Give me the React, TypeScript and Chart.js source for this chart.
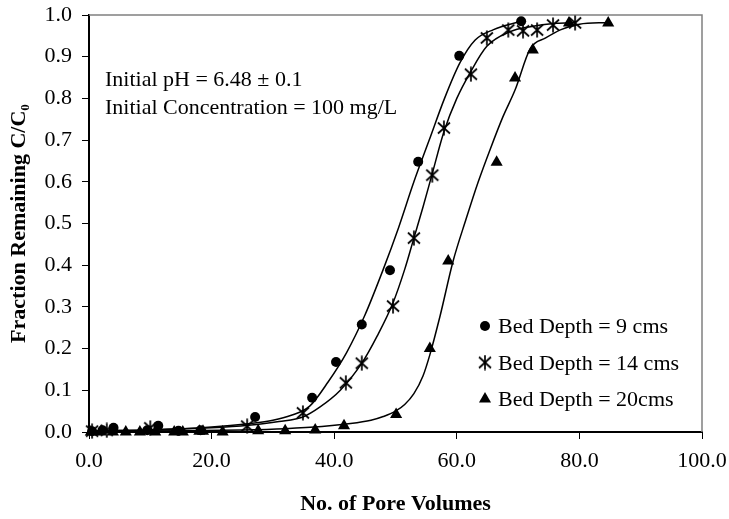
import { useEffect, useRef } from 'react';
import { Chart, registerables } from 'chart.js';

Chart.register(...registerables);

// Measured breakthrough points, bed depth 9 cm
const depth9X = [0.5, 2.2, 4.0, 9.5, 11.3, 14.6, 18.2, 27.1, 36.4, 40.3, 44.5, 49.1, 53.7, 60.4, 70.5];
const depth9Y = [0.002, 0.004, 0.01, 0.004, 0.015, 0.003, 0.004, 0.036, 0.082, 0.168, 0.258, 0.388, 0.648, 0.902, 0.985];

// Measured breakthrough points, bed depth 14 cm
const depth14X = [0.5, 2.9, 10.0, 25.8, 34.9, 41.9, 44.5, 49.6, 53.0, 56.0, 57.9, 62.3, 64.9, 68.4, 70.8, 73.1, 75.7, 79.3];
const depth14Y = [0.002, 0.004, 0.01, 0.014, 0.046, 0.118, 0.165, 0.302, 0.465, 0.616, 0.729, 0.858, 0.945, 0.964, 0.962, 0.964, 0.976, 0.981];

// Measured breakthrough points, bed depth 20 cm
const depth20X = [0.3, 1.9, 3.9, 6.0, 8.3, 10.8, 13.9, 15.3, 18.0, 18.6, 21.8, 27.6, 32.0, 36.9, 41.6, 50.1, 55.6, 58.6, 66.5, 69.5, 72.4, 78.3, 84.7];
const depth20Y = [0, 0, 0, 0, 0, 0, 0, 0, 0.002, 0.002, 0, 0.003, 0.003, 0.005, 0.015, 0.042, 0.2, 0.41, 0.647, 0.849, 0.916, 0.981, 0.981];

// Fitted breakthrough curves
const fit9X = [0, 10, 20, 26, 30, 33, 36, 39, 42, 45, 48, 50.5, 53, 55.5, 58, 60.5, 63, 66, 70.5];
const fit9Y = [0.003, 0.005, 0.012, 0.02, 0.028, 0.04, 0.062, 0.12, 0.19, 0.28, 0.39, 0.49, 0.6, 0.7, 0.8, 0.885, 0.94, 0.965, 0.985];

const fit14X = [0, 10, 20, 26, 31, 34.9, 37.7, 41, 44.5, 47, 49.6, 51.5, 53, 54.5, 56, 57.9, 60, 62.3, 64.9, 68.7, 72, 76.3, 79.3];
const fit14Y = [0.003, 0.005, 0.01, 0.016, 0.025, 0.036, 0.06, 0.1, 0.165, 0.23, 0.31, 0.39, 0.465, 0.54, 0.62, 0.72, 0.8, 0.865, 0.925, 0.96, 0.972, 0.98, 0.982];

const fit20X = [0, 15, 25, 32, 38, 42, 46, 48, 50, 51.5, 53, 54.5, 55.6, 57.3, 59.4, 61.5, 63.5, 65.5, 67.5, 69.5, 72, 74.5, 77, 80, 84.7];
const fit20Y = [0.002, 0.003, 0.005, 0.008, 0.013, 0.019, 0.028, 0.037, 0.05, 0.066, 0.092, 0.135, 0.185, 0.28, 0.41, 0.51, 0.6, 0.68, 0.755, 0.82, 0.92, 0.945, 0.965, 0.978, 0.982];

const seriesLabels = ['Bed Depth = 9 cms', 'Bed Depth = 14 cms', 'Bed Depth = 20cms'];
const noteLines = ['Initial pH = 6.48 \u00b1 0.1', 'Initial Concentration = 100 mg/L'];
const xTitle = 'No. of Pore Volumes';
const yTitle = 'Fraction Remaining C/C\u2080';

const SERIF = '"Liberation Serif", "Times New Roman", serif';

const toPoints = (xs: number[], ys: number[]) => xs.map((x, i) => ({ x, y: ys[i] }));

// Six-armed asterisk marker (X with a vertical bar)
function makeAsterisk(): HTMLCanvasElement {
  const c = document.createElement('canvas');
  c.width = 16;
  c.height = 16;
  const g = c.getContext('2d')!;
  g.strokeStyle = '#000';
  g.lineWidth = 1.7;
  g.beginPath();
  g.moveTo(2, 2.5); g.lineTo(14, 13.5);
  g.moveTo(14, 2.5); g.lineTo(2, 13.5);
  g.moveTo(8, 0.5); g.lineTo(8, 15.5);
  g.stroke();
  return c;
}

function drawMarker(ctx: CanvasRenderingContext2D, style: any, r: number, x: number, y: number) {
  ctx.save();
  ctx.fillStyle = '#000';
  if (style instanceof HTMLCanvasElement) {
    ctx.drawImage(style, x - style.width / 2, y - style.height / 2);
  } else if (style === 'triangle') {
    const h = r * 1.5;
    const w = r * Math.sqrt(3) / 2;
    ctx.beginPath();
    ctx.moveTo(x, y - r);
    ctx.lineTo(x + w, y - r + h);
    ctx.lineTo(x - w, y - r + h);
    ctx.closePath();
    ctx.fill();
  } else {
    ctx.beginPath();
    ctx.arc(x, y, r, 0, Math.PI * 2);
    ctx.fill();
  }
  ctx.restore();
}

// Grey frame on the top and right of the plot area
const framePlugin = {
  id: 'frame',
  beforeDatasetsDraw(chart: any) {
    const { ctx, chartArea: a } = chart;
    ctx.save();
    ctx.strokeStyle = '#808080';
    ctx.lineWidth = 1.5;
    ctx.beginPath();
    ctx.moveTo(a.left, a.top);
    ctx.lineTo(a.right, a.top);
    ctx.lineTo(a.right, a.bottom);
    ctx.stroke();
    ctx.restore();
  },
};

// Experimental conditions note and legend inside the plot
const notesPlugin = {
  id: 'notes',
  afterDatasetsDraw(chart: any) {
    const { ctx, chartArea: a } = chart;
    ctx.save();
    ctx.fillStyle = '#000';
    ctx.font = `22px ${SERIF}`;
    ctx.textAlign = 'left';
    ctx.textBaseline = 'alphabetic';
    noteLines.forEach((t, i) => ctx.fillText(t, a.left + 16, a.top + 71 + i * 28));

    const marked = chart.data.datasets.filter((d: any) => d.showInLegend);
    marked.forEach((d: any, i: number) => {
      const cy = a.top + 311 + i * 36.5;
      drawMarker(ctx, d.pointStyle, d.pointRadius, a.left + 396, cy);
      ctx.fillText(d.label, a.left + 409, cy + 7);
    });
    ctx.restore();
  },
};

export default function App() {
  const ref = useRef<HTMLCanvasElement>(null);

  useEffect(() => {
    document.body.style.margin = '0';
    const canvas = ref.current!;
    const asterisk = makeAsterisk();
    Chart.defaults.color = '#000';
    Chart.defaults.font.family = SERIF;

    const fitLine = (xs: number[], ys: number[]) => ({
      type: 'line' as const,
      data: toPoints(xs, ys),
      borderColor: '#000',
      borderWidth: 1.5,
      pointRadius: 0,
      fill: false,
      cubicInterpolationMode: 'monotone' as const,
      showInLegend: false,
    });

    const chart = new Chart(canvas, {
      type: 'scatter',
      data: {
        datasets: [
          {
            label: seriesLabels[0],
            data: toPoints(depth9X, depth9Y),
            pointStyle: 'circle',
            pointRadius: 5,
            backgroundColor: '#000',
            borderColor: '#000',
            borderWidth: 0,
            showInLegend: true,
          } as any,
          {
            label: seriesLabels[1],
            data: toPoints(depth14X, depth14Y),
            pointStyle: asterisk,
            pointRadius: 8,
            backgroundColor: '#000',
            borderColor: '#000',
            showInLegend: true,
          } as any,
          {
            label: seriesLabels[2],
            data: toPoints(depth20X, depth20Y),
            pointStyle: 'triangle',
            pointRadius: 7,
            backgroundColor: '#000',
            borderColor: '#000',
            borderWidth: 0,
            showInLegend: true,
          } as any,
          fitLine(fit9X, fit9Y) as any,
          fitLine(fit14X, fit14Y) as any,
          fitLine(fit20X, fit20Y) as any,
        ],
      },
      options: {
        responsive: false,
        animation: false,
        devicePixelRatio: 1,
        clip: false as any,
        layout: { padding: { top: 15, right: 27, left: 0, bottom: 0 } },
        plugins: {
          legend: { display: false },
          tooltip: { enabled: false },
        },
        scales: {
          x: {
            type: 'linear',
            position: 'bottom',
            min: 0,
            max: 100,
            ticks: {
              stepSize: 20,
              padding: 9,
              color: '#000',
              font: { size: 22, family: SERIF },
              callback: (v: any) => Number(v).toFixed(1),
            },
            grid: { drawOnChartArea: false, drawTicks: true, tickLength: 7, color: '#000', lineWidth: 1 },
            border: { color: '#000', width: 2 },
            title: {
              display: true,
              text: xTitle,
              color: '#000',
              font: { size: 22, weight: 'bold', family: SERIF },
              padding: { top: 0, bottom: 1 },
            },
            afterFit: (s: any) => {
              s.height = 87;
              s.paddingLeft = 0;
              s.paddingRight = 0;
            },
          },
          y: {
            type: 'linear',
            min: 0,
            max: 1,
            ticks: {
              stepSize: 0.1,
              padding: 10,
              color: '#000',
              font: { size: 22, family: SERIF },
              callback: (v: any) => Number(v).toFixed(1),
            },
            grid: { drawOnChartArea: false, drawTicks: true, tickLength: 7, color: '#000', lineWidth: 1 },
            border: { color: '#000', width: 2 },
            title: {
              display: true,
              text: yTitle,
              color: '#000',
              font: { size: 22, weight: 'bold', family: SERIF },
              padding: { top: 6, bottom: 0 },
            },
            afterFit: (s: any) => {
              s.width = 89;
              s.paddingTop = 0;
              s.paddingBottom = 0;
            },
          },
        },
      },
      plugins: [framePlugin, notesPlugin],
    });

    return () => chart.destroy();
  }, []);

  return (
    <div style={{ width: 729, height: 519 }}>
      <canvas ref={ref} width={729} height={519} style={{ display: 'block' }} />
    </div>
  );
}
